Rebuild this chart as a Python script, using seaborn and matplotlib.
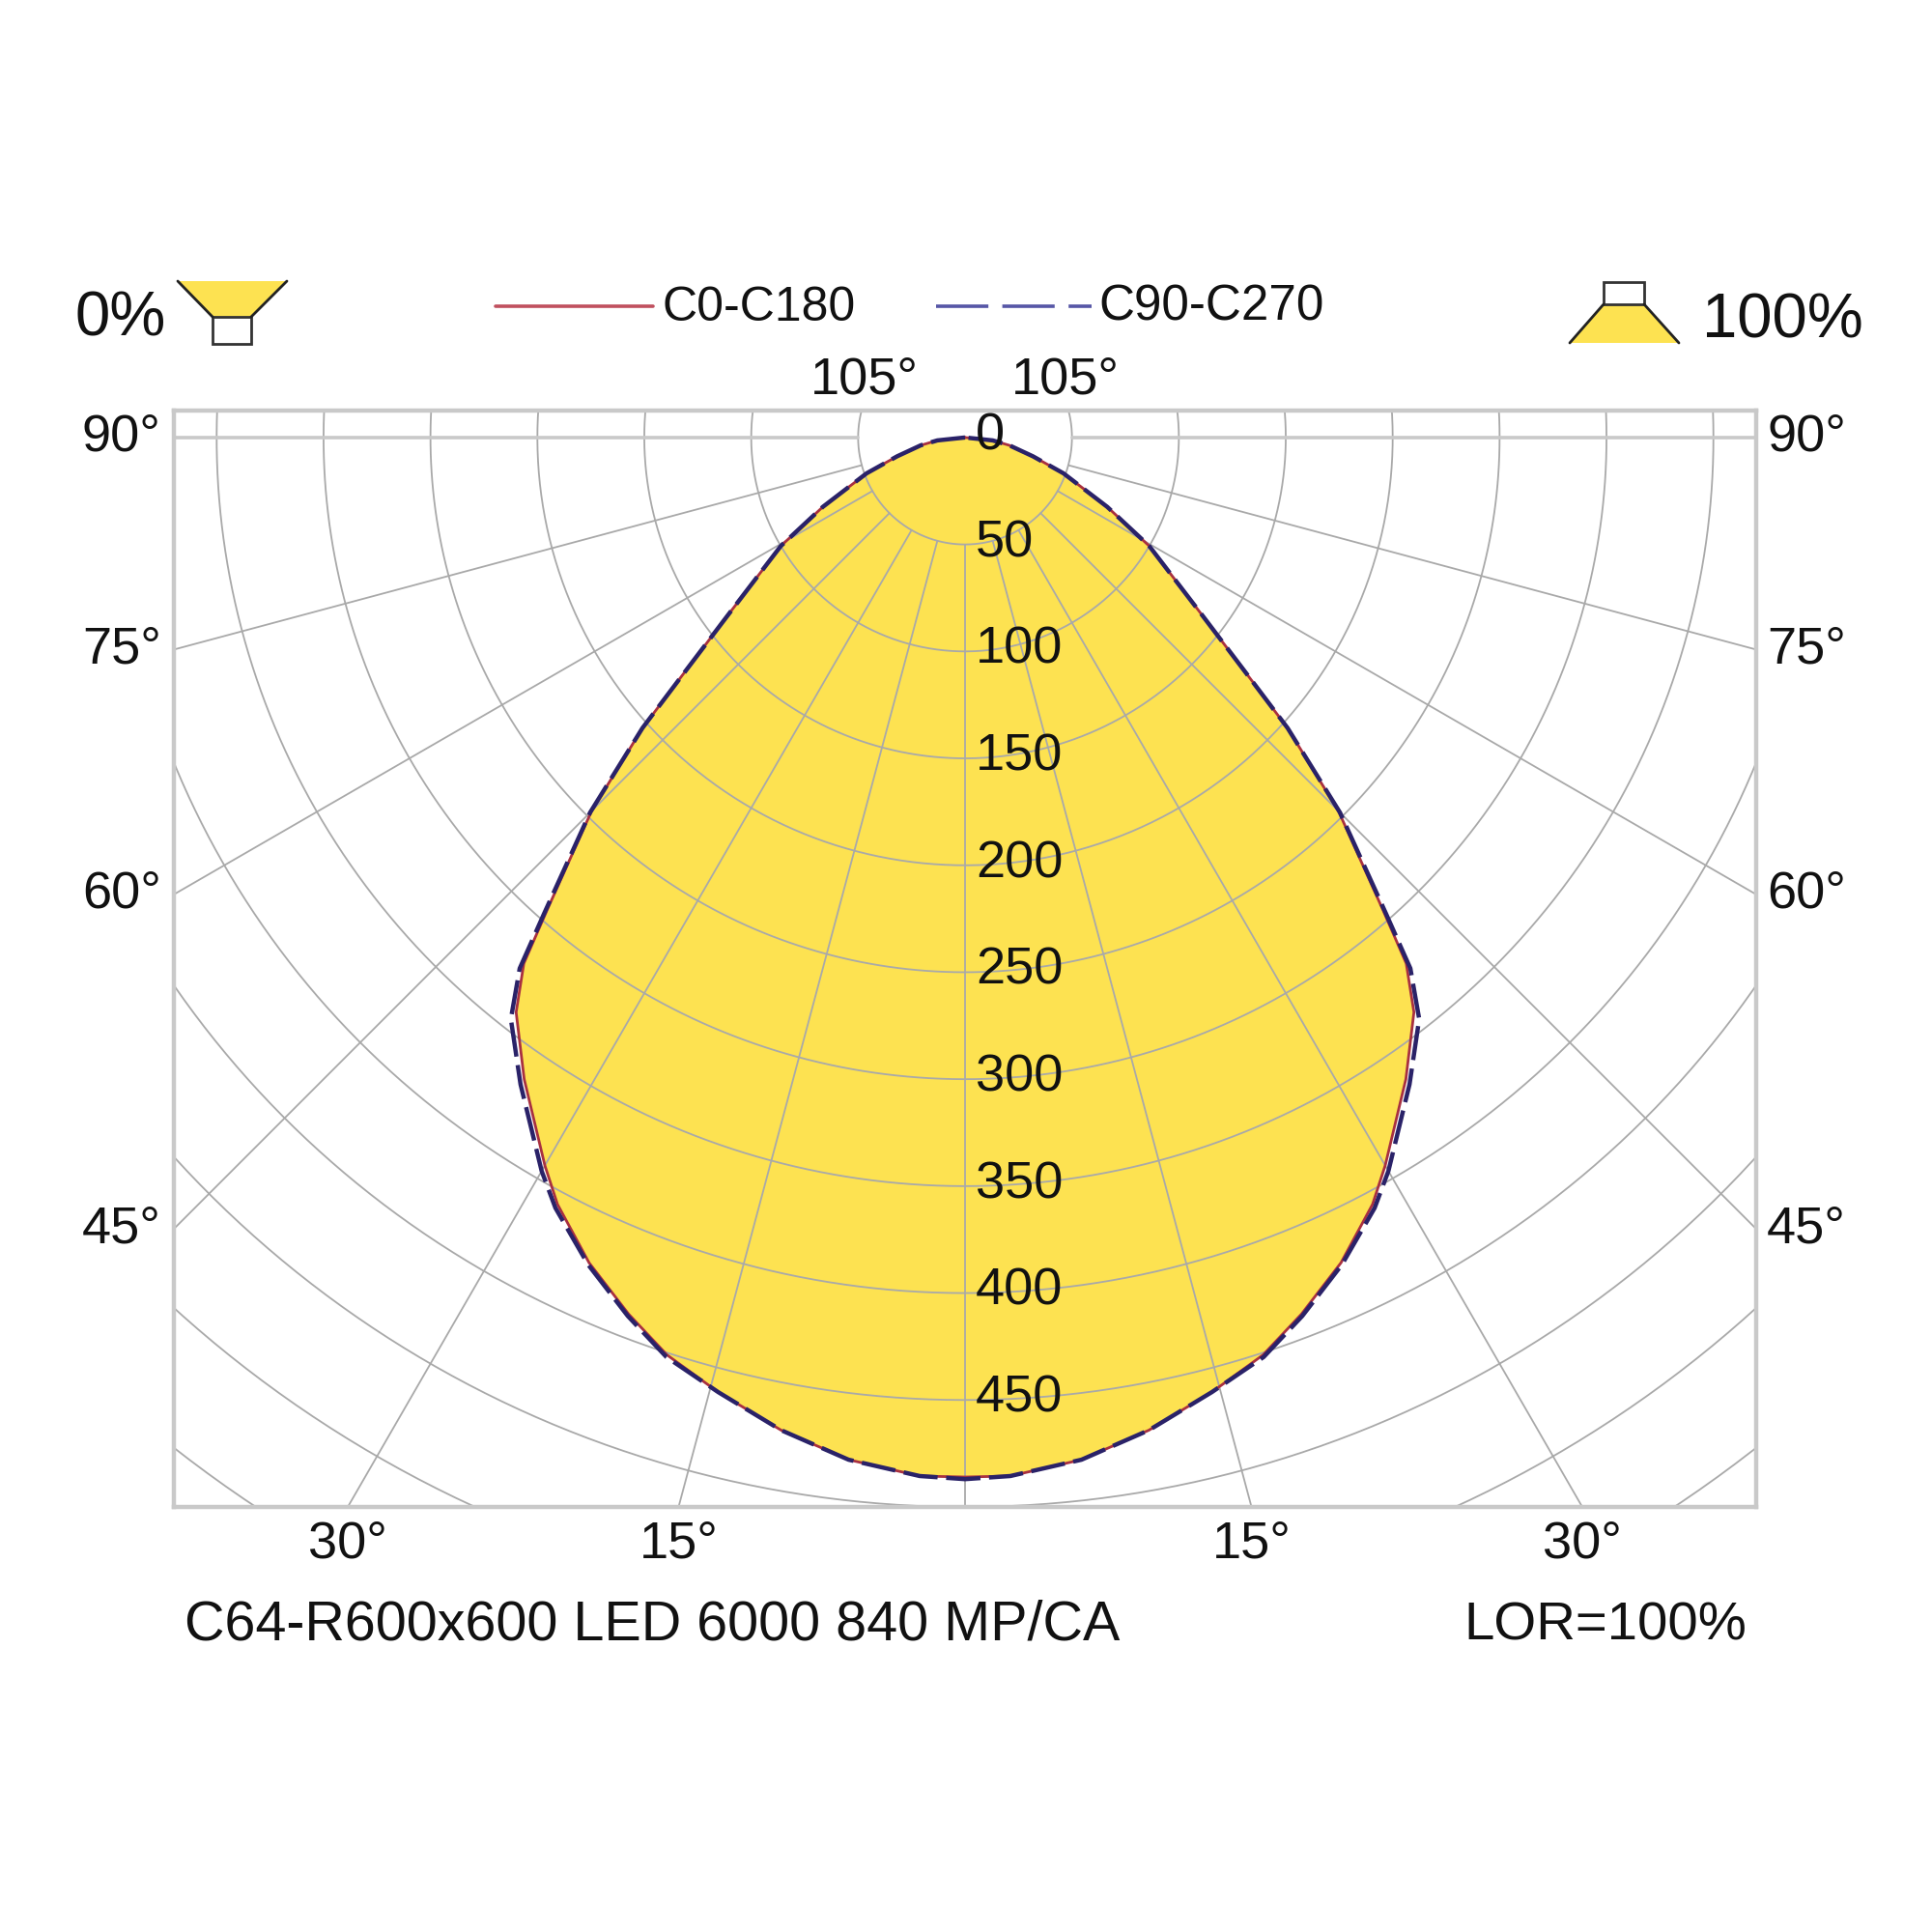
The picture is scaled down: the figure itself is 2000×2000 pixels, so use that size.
import numpy as np
import pandas as pd
import matplotlib
matplotlib.use("Agg")
import matplotlib.pyplot as plt
from matplotlib.patches import Polygon, Rectangle
from matplotlib.lines import Line2D
import seaborn as sns

# --- data: gamma angle from nadir (deg) and intensity (cd/klm) ---
GAMMA = [0, 2.5, 6.5, 10.5, 14.5, 18, 21, 24.5, 28, 30, 34.5, 38, 40, 41.5, 45,
         48, 50, 53, 59.5, 64, 70, 74.5, 80, 84, 90]
C0_C180 = [486, 486, 481, 472, 461, 451, 439, 424, 406, 393, 364, 341, 321, 295, 247,
           203, 172, 140, 100, 74, 49, 33, 21, 13, 0]
C90_C270 = [487, 486, 481, 472, 461, 452, 440, 425, 408, 396, 367, 345, 324, 297, 248,
            203, 172, 140, 100, 74, 49, 33, 21, 13, 0]

RADII = list(range(50, 701, 50))
RADIAL_LABELS = list(range(0, 451, 50))
SPOKES = list(range(-105, 106, 15))
SIDE_TICKS = [90, 75, 60, 45]
BOTTOM_TICKS = [30, 15]

TITLE = "C64-R600x600 LED 6000 840 MP/CA"
LOR_TEXT = "LOR=100%"
LEGEND_NAMES = ["C0-C180", "C90-C270"]

# --- style ---
YELLOW = "#FDE251"
GRID = "#a9a9a9"
FRAME = "#c9c9c9"
XLIM = (-370, 370)
YLIM = (-500, 12.6)


def to_xy(gamma, values):
    g = np.radians(np.asarray(gamma, dtype=float))
    v = np.asarray(values, dtype=float)
    # left half (C180 / C270) then right half (C0 / C90)
    x = np.concatenate([-v[::-1] * np.sin(g[::-1]), v[1:] * np.sin(g[1:])])
    y = np.concatenate([-v[::-1] * np.cos(g[::-1]), -v[1:] * np.cos(g[1:])])
    return pd.DataFrame({"x": x, "y": y})


def fpos(px, py):
    return px / 2000, 1 - py / 2000


sns.set_theme(style="white")
plt.rcParams["font.family"] = ["Liberation Sans", "DejaVu Sans"]

fig = plt.figure(figsize=(10, 10), dpi=200)
fig.patch.set_facecolor("white")
ax = fig.add_axes([0.09, 0.22, 0.819, 0.5675])
ax.set_xlim(*XLIM)
ax.set_ylim(*YLIM)
ax.set_xticks([])
ax.set_yticks([])
for sp in ax.spines.values():
    sp.set_color(FRAME)
    sp.set_linewidth(1.6)

df0 = to_xy(GAMMA, C0_C180)
df90 = to_xy(GAMMA, C90_C270)

# yellow fill
ax.fill(df0["x"], df0["y"], color=YELLOW, lw=0, zorder=1)

# grid circles
t = np.linspace(0, 2 * np.pi, 720)
for r in RADII:
    ax.plot(r * np.cos(t), r * np.sin(t), color=GRID, lw=0.65, zorder=2)

# spokes start at the first circle
rmax = 1000
for a in SPOKES:
    ar = np.radians(a)
    lw, col = (1.3, FRAME) if abs(a) == 90 else (0.65, GRID)
    ax.plot([RADII[0] * np.sin(ar), rmax * np.sin(ar)],
            [-RADII[0] * np.cos(ar), -rmax * np.cos(ar)], color=col, lw=lw, zorder=2)

# curves
sns.lineplot(data=df0, x="x", y="y", sort=False, estimator=None, color="#a83040",
             lw=1.0, ax=ax, zorder=3)
sns.lineplot(data=df90, x="x", y="y", sort=False, estimator=None, color="#2a2268",
             lw=1.6, ax=ax, zorder=4)
ax.lines[-1].set_dashes((8, 2))
ax.set_xlabel("")
ax.set_ylabel("")

# radial labels
for v in RADIAL_LABELS:
    ax.text(5, -v - 5.6, str(v), fontsize=19.5, color="#111111",
            ha="left", va="baseline", zorder=5)

# side angle labels
for a in SIDE_TICKS:
    yl = -XLIM[1] / np.tan(np.radians(a)) if a != 90 else 0.0
    ax.text(XLIM[0] - 6, yl - 6.3, f"{a}°", fontsize=19.5, ha="right",
            va="baseline", clip_on=False, color="#111111")
    ax.text(XLIM[1] + 5, yl - 6.3, f"{a}°", fontsize=19.5, ha="left",
            va="baseline", clip_on=False, color="#111111")

# bottom angle labels
for a in BOTTOM_TICKS:
    xl = -YLIM[0] * np.tan(np.radians(a))
    for s in (-1, 1):
        ax.text(s * xl, YLIM[0] - 23.5, f"{a}°", fontsize=19.5, ha="center",
                va="baseline", clip_on=False, color="#111111")

# 105 degree labels where the spokes meet the top edge
x105 = YLIM[1] / np.tan(np.radians(15))
for s in (-1, 1):
    ax.text(s * x105, YLIM[1] + 7.7, "105°", fontsize=19.5, ha="center",
            va="baseline", clip_on=False, color="#111111")

# --- legend across the top ---
x0, y0 = fpos(513, 317)
x1, _ = fpos(676, 317)
fig.add_artist(Line2D([x0, x1], [y0, y0], color="#c0505e", lw=1.3, transform=fig.transFigure))
fig.text(*fpos(686, 332), LEGEND_NAMES[0], fontsize=18, ha="left", va="baseline", color="#111111")
x0, _ = fpos(969, 317)
x1, _ = fpos(1130, 317)
dash = Line2D([x0, x1], [y0, y0], color="#5656a6", lw=1.3, transform=fig.transFigure)
dash.set_dashes((15, 4))
fig.add_artist(dash)
fig.text(*fpos(1137, 332), LEGEND_NAMES[1], fontsize=18.4, ha="left", va="baseline", color="#111111")

# 0% icon (light downwards)
fig.text(*fpos(77, 348), "0%", fontsize=23.5, ha="left", va="baseline", color="#111111")
trap = [fpos(184, 291), fpos(297, 291), fpos(260, 328), fpos(220, 328)]
fig.add_artist(Polygon(trap, closed=True, facecolor=YELLOW, edgecolor="none",
                       transform=fig.transFigure))
for a_, b_ in [(trap[0], trap[3]), (trap[1], trap[2])]:
    fig.add_artist(Line2D([a_[0], b_[0]], [a_[1], b_[1]], color="#222222", lw=1.0,
                          transform=fig.transFigure))
bx, by = fpos(220, 356)
fig.add_artist(Rectangle((bx, by), 40 / 2000, 28 / 2000, facecolor="white",
                         edgecolor="#333333", lw=1.0, transform=fig.transFigure))

# 100% icon (light upwards)
fig.text(*fpos(1762, 349), "100%", fontsize=23.5, ha="left", va="baseline", color="#111111")
trap = [fpos(1660, 315), fpos(1702, 315), fpos(1738, 355), fpos(1625, 355)]
fig.add_artist(Polygon(trap, closed=True, facecolor=YELLOW, edgecolor="none",
                       transform=fig.transFigure))
for a_, b_ in [(trap[0], trap[3]), (trap[1], trap[2])]:
    fig.add_artist(Line2D([a_[0], b_[0]], [a_[1], b_[1]], color="#222222", lw=1.0,
                          transform=fig.transFigure))
bx, by = fpos(1660, 315)
fig.add_artist(Rectangle((bx, by), 42 / 2000, 23 / 2000, facecolor="white",
                         edgecolor="#333333", lw=1.0, transform=fig.transFigure))

# footer
fig.text(*fpos(191, 1697), TITLE, fontsize=20.7, ha="left", va="baseline", color="#111111")
fig.text(*fpos(1808, 1697), LOR_TEXT, fontsize=20.3, ha="right", va="baseline", color="#111111")

fig.savefig("out.png", dpi=200, facecolor="white")
